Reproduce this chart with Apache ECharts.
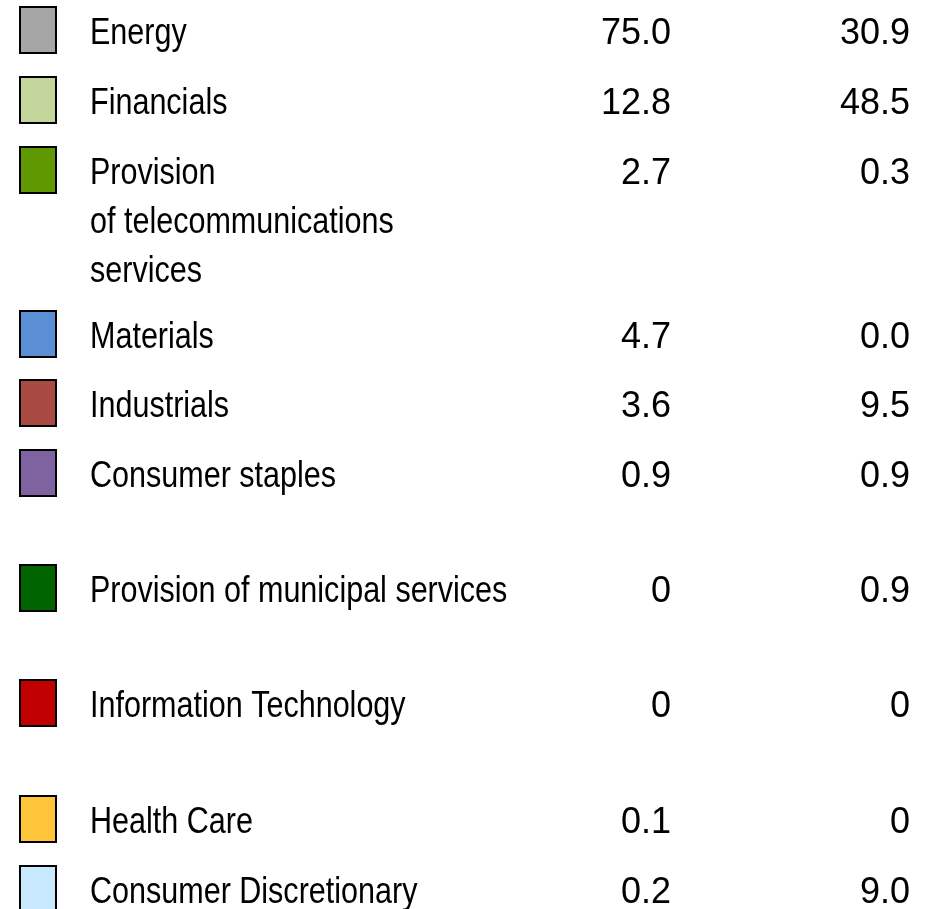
<!DOCTYPE html>
<html>
<head>
<meta charset="utf-8">
<script src="https://cdn.jsdelivr.net/npm/echarts@6/dist/echarts.min.js"></script>
<style>
  html, body { margin: 0; padding: 0; background: #fff; }
  #chart { width: 925px; height: 909px; }
</style>
</head>
<body>
<div id="chart"></div>
<script>
// sectors and their two shares, as printed in the table
const sectors = [
  'Energy',
  'Financials',
  'Provision\nof telecommunications\nservices',
  'Materials',
  'Industrials',
  'Consumer staples',
  'Provision of municipal services',
  'Information Technology',
  'Health Care',
  'Consumer Discretionary'
]
const colA = ['75.0', '12.8', '2.7', '4.7', '3.6', '0.9', '0', '0', '0.1', '0.2']
const colB = ['30.9', '48.5', '0.3', '0.0', '9.5', '0.9', '0.9', '0', '0', '9.0']

// swatch colours
const swatchColors = [
  '#a6a6a6', '#c3d69b', '#5f9800', '#5a8fd3', '#a94a42',
  '#7f62a0', '#006400', '#c00000', '#ffc53a', '#c7e8fd'
]
// layout: top of each row (px)
const rowTops = [7, 77, 147, 311, 380, 450, 565, 680, 796, 866]

const chart = echarts.init(document.getElementById('chart'))

const option = {
  animation: false,
  grid: { left: 0, right: 0, top: 0, bottom: 0 },
  xAxis: { type: 'value', min: 0, max: 925, show: false },
  yAxis: { type: 'value', min: 0, max: 909, inverse: true, show: false },
  series: [
    {
      type: 'custom',
      data: sectors.map((s, i) => [i]),
      renderItem: function (params, api) {
        const i = api.value(0)
        const top = api.coord([0, rowTops[i]])[1]
        const swatchX = api.coord([20, 0])[0]
        const textX = api.coord([90, 0])[0]
        const colAX = api.coord([671, 0])[0]
        const colBX = api.coord([910, 0])[0]
        return {
          type: 'group',
          children: [
            {
              type: 'rect',
              shape: { x: swatchX, y: top, width: 36, height: 46 },
              style: { fill: swatchColors[i], stroke: '#000', lineWidth: 2 }
            },
            {
              type: 'text',
              x: textX,
              y: top + 2.5,
              scaleX: 0.825,
              style: {
                text: sectors[i],
                fill: '#000',
                font: '37px "Liberation Sans", Arial, sans-serif',
                lineHeight: 49,
                align: 'left',
                verticalAlign: 'top'
              }
            },
            {
              type: 'text',
              x: colAX,
              y: top + 3,
              style: {
                text: colA[i],
                fill: '#000',
                font: '36px "Liberation Sans", Arial, sans-serif',
                lineHeight: 49,
                align: 'right',
                verticalAlign: 'top'
              }
            },
            {
              type: 'text',
              x: colBX,
              y: top + 3,
              style: {
                text: colB[i],
                fill: '#000',
                font: '36px "Liberation Sans", Arial, sans-serif',
                lineHeight: 49,
                align: 'right',
                verticalAlign: 'top'
              }
            }
          ]
        }
      }
    }
  ]
}

chart.setOption(option)
</script>
</body>
</html>
